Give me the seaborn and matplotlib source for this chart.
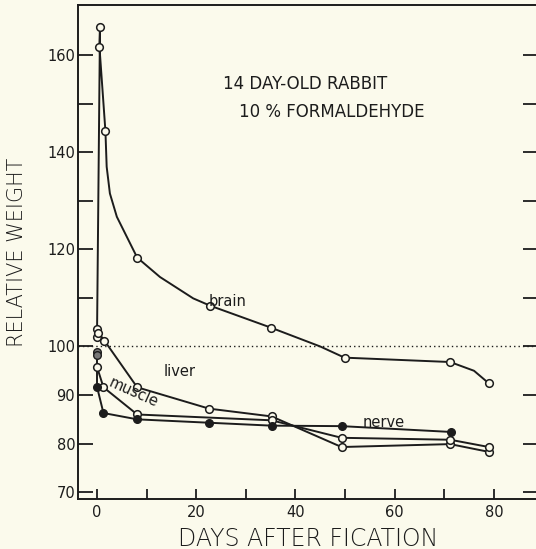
import numpy as np
import pandas as pd
import seaborn as sns
import matplotlib.pyplot as plt
from matplotlib.ticker import MultipleLocator, FixedLocator, FixedFormatter

# values (days after fixation, relative weight %)
brain_days = [0, 0.6, 0.5, 1.7, 8.1, 22.8, 35.0, 49.9, 71.2, 79.0]
brain_vals = [102.0, 165.7, 161.6, 144.3, 118.3, 108.4, 103.9, 97.7, 96.8, 92.4]
# extra points (no markers)
brain_line_days = [0, 0.6, 0.5, 1.7, 1.95, 2.6, 4.0, 6.0, 8.1, 12.7, 19.4, 22.8, 35.0, 45.0, 49.9, 71.2, 76.0, 79.0]
brain_line_vals = [102.0, 165.7, 161.6, 144.3, 137.0, 131.5, 126.7, 122.6, 118.3, 114.3, 109.9, 108.4, 103.9, 100.0, 97.7, 96.8, 95.0, 92.4]

liver_days = [0, 0.3, 1.5, 8.1, 22.6, 35.2, 49.3, 71.2, 79.0]
liver_vals = [103.7, 102.8, 101.2, 91.6, 87.2, 85.6, 79.3, 79.9, 78.3]

muscle_days = [0, 1.3, 8.1, 35.2, 49.3, 71.2, 79.0]
muscle_vals = [95.8, 91.6, 86.0, 84.8, 81.2, 80.8, 79.3]

nerve_days = [0, 0, 0, 1.3, 8.1, 22.6, 35.2, 49.3, 71.4]
nerve_vals = [98.9, 98.2, 91.7, 86.3, 85.0, 84.3, 83.7, 83.6, 82.4]

y_ticks = [70, 80, 90, 100, 110, 120, 130, 140, 150, 160]
y_labels = ['70', '80', '90', '100', '', '120', '', '140', '', '160']
x_ticks = [0, 20, 40, 60, 80]

paper = '#fbfaec'
ink = '#1c1c1c'

sns.set_style('ticks')
plt.rcParams['font.family'] = ['DejaVu Sans']

fig = plt.figure(figsize=(5.36, 5.49), dpi=100, facecolor=paper)
ax = fig.add_axes([78 / 536, 1 - 499 / 549, 460 / 536, 494 / 549])
ax.set_facecolor(paper)

line_kw = dict(color=ink, linewidth=1.4, sort=False, estimator=None, ax=ax, legend=False)
open_kw = dict(marker='o', markersize=5.5, markerfacecolor=paper, markeredgecolor=ink,
               markeredgewidth=1.1, linestyle='none')
filled_kw = dict(marker='o', markersize=5.5, markerfacecolor=ink, markeredgecolor=ink,
                 linestyle='none')

sns.lineplot(x=brain_line_days, y=brain_line_vals, **line_kw)
ax.plot(brain_days, brain_vals, **open_kw)

for d, v in [(liver_days, liver_vals), (muscle_days, muscle_vals), (nerve_days, nerve_vals)]:
    sns.lineplot(x=d, y=v, **line_kw)
ax.plot(liver_days, liver_vals, **open_kw)
ax.plot(muscle_days, muscle_vals, **open_kw)
ax.plot(nerve_days[:2], nerve_vals[:2], marker='o', markersize=5.5, markerfacecolor='#777777',
        markeredgecolor=ink, linestyle='none')
ax.plot(nerve_days[2:], nerve_vals[2:], **filled_kw)

ax.axhline(100, color=ink, linestyle=(0, (1, 2.2)), linewidth=1.0)

ax.set_xlim(-3.83, 88.9)
ax.set_ylim(68.6, 170.3)
ax.xaxis.set_major_locator(FixedLocator(x_ticks))
ax.xaxis.set_minor_locator(MultipleLocator(10))
ax.yaxis.set_major_locator(FixedLocator(y_ticks))
ax.yaxis.set_major_formatter(FixedFormatter(y_labels))
ax.tick_params(axis='y', direction='in', length=11, width=1.3, right=True, labelsize=10.5,
               colors=ink, pad=2)
ax.tick_params(axis='x', which='both', direction='in', length=7, width=1.3, labelsize=10.5,
               colors=ink, pad=4)
for s in ['left', 'bottom', 'top', 'right']:
    ax.spines[s].set_color(ink)
    ax.spines[s].set_linewidth(1.4)

ax.set_xlabel('DAYS AFTER FICATION', fontsize=17, color=ink, labelpad=5, fontweight='light')
ax.set_ylabel('RELATIVE WEIGHT', fontsize=15, color=ink, fontweight='light')
ax.yaxis.set_label_coords(-0.111, 0.5)

ax.text(41.9, 154.0, '14 DAY-OLD RABBIT', fontsize=12, color=ink, ha='center', va='center')
ax.text(47.4, 148.3, '10 % FORMALDEHYDE', fontsize=12, color=ink, ha='center', va='center')
ax.text(22.5, 109.3, 'brain', fontsize=10.5, color=ink, ha='left', va='center')
ax.text(13.5, 94.8, 'liver', fontsize=10.5, color=ink, ha='left', va='center')
ax.text(7.3, 90.6, 'muscle', fontsize=10.5, color=ink, ha='center', va='center', rotation=-24)
ax.text(53.5, 84.4, 'nerve', fontsize=10.5, color=ink, ha='left', va='center')

fig.savefig('out.png', dpi=100, facecolor=paper)
